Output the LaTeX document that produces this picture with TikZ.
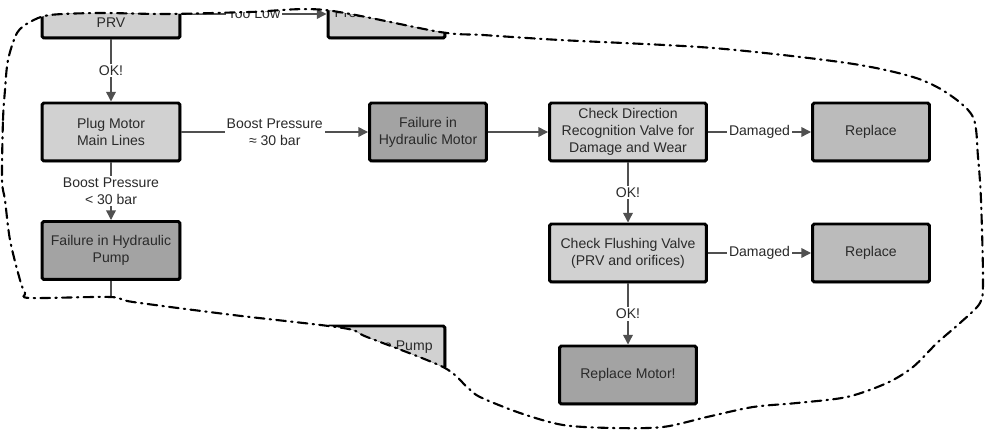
\documentclass[tikz,border=0pt]{standalone}
\usepackage{fontspec}
\setmainfont{Liberation Sans}
\usetikzlibrary{arrows.meta,shadows}

\definecolor{boxlight}{HTML}{D1D1D1}
\definecolor{boxmid}{HTML}{BBBBBB}
\definecolor{boxdark}{HTML}{A3A3A3}
\definecolor{txtgray}{HTML}{2A2A2A}
\definecolor{linkgray}{HTML}{505050}

\begin{document}
\begin{tikzpicture}[x=0.02cm, y=-0.02cm,
  font=\fontsize{8}{9.6}\selectfont, text=txtgray,
  >={Triangle[length=5.5pt,width=5.5pt]},
  box/.style={draw=black, line width=1.7pt, rounded corners=1pt, align=center, inner sep=2pt,
              minimum height=1.16cm, drop shadow={shadow xshift=0.6pt, shadow yshift=-0.6pt, opacity=1, fill=black}},
  check/.style={box, fill=boxlight},
  fail/.style={box, fill=boxdark},
  repl/.style={box, fill=boxmid},
  link/.style={draw=linkgray, line width=0.8pt},
  lbl/.style={fill=white, inner sep=1pt, align=center, midway},
  rim/.style={line width=1.2pt, line cap=round, dash pattern=on 5.5pt off 3pt on 0.8pt off 3pt}]
\useasboundingbox (0,0) rectangle (985,432);
\fill[white] (0,0) rectangle (985,432);

% region of the chart that is kept
\path[save path=\rimpath] plot[smooth cycle, tension=0.5] coordinates {
  (2,180) (3,120) (5,90) (8,60) (17,33) (30,22) (50,15) (100,13) (167,14) (250,12) (325,10)
  (440,32) (483,35) (560,40) (713,48) (847,63) (913,77) (947,93) (973,117) (978,157)
  (981,200) (983,280) (980,303) (960,323) (937,343) (913,367) (887,383) (847,397)
  (797,403) (753,407) (707,417) (663,427) (613,428) (563,425) (520,413) (480,397)
  (467,387) (443,367) (367,337) (343,328) (233,315) (133,302) (110,297) (30,298)
  (25,293) (20,280) (10,240) (5,200)};

\begin{scope}
\clip[use path=\rimpath];
\node[check, minimum width=2.76cm, minimum height=0.96cm] (prv) at (111,14) {High Level\\PRV};
\node[check, minimum width=2.34cm, minimum height=0.96cm] (pres) at (386.5,14) {\raisebox{-2pt}{Pressure Setting}};
\node[check, minimum width=2.76cm] (plug) at (111,132) {Plug Motor\\Main Lines};
\node[fail, minimum width=2.76cm] (fpump) at (111,250.5) {Failure in Hydraulic\\Pump};
\node[check, minimum width=2.34cm, minimum height=0.84cm] (pump) at (386.5,347) {Replace Pump};
\node[fail, minimum width=2.34cm] (fmotor) at (428,132) {Failure in\\Hydraulic Motor};
\node[check, minimum width=3.14cm] (dirvalve) at (628,132) {Check Direction\\Recognition Valve for\\Damage and Wear};
\node[repl, minimum width=2.34cm] (repdir) at (871,132) {Replace};
\node[check, minimum width=3.14cm] (flush) at (628,253) {Check Flushing Valve\\(PRV and orifices)};
\node[repl, minimum width=2.34cm] (repflush) at (871,253) {Replace};
\node[fail, minimum width=2.74cm] (repmotor) at (628,375) {Replace Motor!};
\coordinate (pumpout) at (111,330);

\draw[link,->] (prv) -- node[lbl] {Too Low} (pres);
\draw[link,->] (prv) -- node[lbl] {OK!} (plug);
\draw[link,->] (plug) -- node[lbl] {Boost Pressure\\≈ 30 bar} (fmotor);
\draw[link,->] (plug) -- node[lbl] {Boost Pressure\\< 30 bar} (fpump);
\draw[link] (fpump) -- (pumpout);
\draw[link,->] (fmotor) -- (dirvalve);
\draw[link,->] (dirvalve) -- node[lbl] {Damaged} (repdir);
\draw[link,->] (dirvalve) -- node[lbl] {OK!} (flush);
\draw[link,->] (flush) -- node[lbl] {Damaged} (repflush);
\draw[link,->] (flush) -- node[lbl] {OK!} (repmotor);
\end{scope}

\draw[rim, use path=\rimpath];
\end{tikzpicture}
\end{document}
